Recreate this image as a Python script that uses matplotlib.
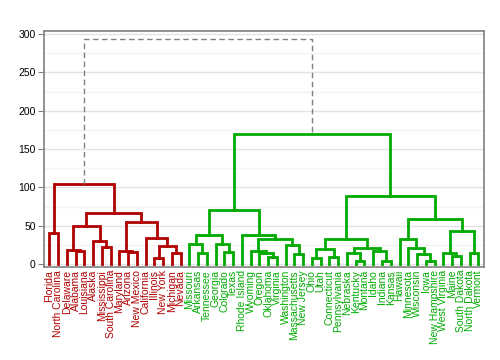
import matplotlib
matplotlib.use("Agg")
import matplotlib.pyplot as plt
from matplotlib.ticker import MultipleLocator

plt.rcParams['font.family'] = ['Liberation Sans', 'DejaVu Sans']

# leaves, in the order they appear along the x axis
states = ['Florida', 'North Carolina', 'Delaware', 'Alabama', 'Louisiana', 'Alaska',
          'Mississippi', 'South Carolina', 'Maryland', 'Arizona', 'New Mexico',
          'California', 'Illinois', 'New York', 'Michigan', 'Nevada', 'Missouri',
          'Arkansas', 'Tennessee', 'Georgia', 'Colorado', 'Texas', 'Rhode Island',
          'Wyoming', 'Oregon', 'Oklahoma', 'Virginia', 'Washington', 'Massachusetts',
          'New Jersey', 'Ohio', 'Utah', 'Connecticut', 'Pennsylvania', 'Nebraska',
          'Kentucky', 'Montana', 'Idaho', 'Indiana', 'Kansas', 'Hawaii', 'Minnesota',
          'Wisconsin', 'Iowa', 'New Hampshire', 'West Virginia', 'Maine',
          'South Dakota', 'North Dakota', 'Vermont']

# merges: a state name or "#k" (k-th merge), and the merge height
link_left = ['Florida', 'Alabama', 'Delaware', 'Mississippi', 'Alaska', '#2',
             'Arizona', 'Maryland', 'Illinois', 'Michigan', '#8', 'California',
             '#7', '#5', '#0',
             'Arkansas', 'Missouri', 'Colorado', 'Georgia', '#16', 'Oklahoma',
             'Oregon', 'Wyoming', 'Massachusetts', 'Washington', '#22',
             'Rhode Island', '#19', 'Ohio', 'Connecticut', '#28', 'Kentucky',
             'Nebraska', 'Indiana', 'Idaho', '#32', '#30', 'Iowa', 'Wisconsin',
             'Minnesota', 'Hawaii', 'Maine', 'West Virginia', 'North Dakota',
             '#42', '#40', '#36', '#27', '#14']
link_right = ['North Carolina', 'Louisiana', '#1', 'South Carolina', '#3', '#4',
              'New Mexico', '#6', 'New York', 'Nevada', '#9', '#10',
              '#11', '#12', '#13',
              'Tennessee', '#15', 'Texas', '#17', '#18', 'Virginia',
              '#20', '#21', 'New Jersey', '#23', '#24',
              '#25', '#26', 'Utah', 'Pennsylvania', '#29', 'Montana',
              '#31', 'Kansas', '#33', '#34', '#35', 'New Hampshire', '#37',
              '#38', '#39', 'South Dakota', '#41', 'Vermont',
              '#43', '#44', '#45', '#46', '#47']
link_height = [40.4, 16.8, 18.3, 22.6, 30.0, 49.6,
               15.7, 16.5, 8.3, 14.3, 23.9, 34.3,
               54.8, 67.0, 104.0,
               14.8, 26.1, 15.8, 26.3, 38.2, 9.6,
               14.4, 17.0, 13.0, 24.5, 32.2,
               37.8, 70.8, 7.4, 9.1, 20.2, 4.3,
               14.0, 4.3, 17.4, 21.3, 33.0, 3.9, 12.6,
               21.3, 33.0, 10.4, 14.0, 14.8,
               43.5, 59.1, 88.7, 169.6, 293.0]

cluster_colors = ['#b00000', '#00aa00']
above_color = '#808080'

fig = plt.figure(figsize=(5, 3.6), dpi=100)
ax = fig.add_axes([0.088, 0.258, 0.88, 0.656])

pos = {s: (i, 0.0) for i, s in enumerate(states)}
members = {s: {s} for s in states}
for k, (a, b, h) in enumerate(zip(link_left, link_right, link_height)):
    pos['#%d' % k] = ((pos[a][0] + pos[b][0]) / 2, h)
    members['#%d' % k] = members[a] | members[b]

# the two top clusters give the colours
root = '#%d' % (len(link_height) - 1)
groups = [members[link_left[-1]], members[link_right[-1]]]
leaf_color = {}
for g, c in zip(groups, cluster_colors):
    for s in g:
        leaf_color[s] = c

for k, (a, b, h) in enumerate(zip(link_left, link_right, link_height)):
    xa, ya = pos[a]
    xb, yb = pos[b]
    xs = [xa, xa, xb, xb]
    ys = [ya, h, h, yb]
    if '#%d' % k == root:
        ax.plot(xs, ys, color=above_color, lw=1, ls=(0, (4, 2.5)), zorder=3)
    else:
        c = leaf_color[next(iter(members['#%d' % k]))]
        ax.plot(xs, ys, color=c, lw=2, solid_joinstyle='miter', zorder=3)

ax.set_xlim(-0.6, len(states) - 0.35)
ax.set_ylim(-4, 304)
ax.yaxis.set_major_locator(MultipleLocator(50))
ax.yaxis.set_minor_locator(MultipleLocator(25))
ax.grid(which='major', axis='y', color='#e3e3e3', lw=1)
ax.grid(which='minor', axis='y', color='#f4f4f4', lw=1)
ax.set_axisbelow(True)

ax.set_xticks(range(len(states)))
ax.set_xticklabels(states, rotation=90, fontsize=7.5)
for lab, s in zip(ax.get_xticklabels(), states):
    lab.set_color(leaf_color[s])
ax.tick_params(axis='x', length=0, pad=2)
ax.tick_params(axis='y', which='major', length=4, color='#808080', labelsize=7.5, pad=2)
ax.tick_params(axis='y', which='minor', length=0)

for sp in ax.spines.values():
    sp.set_color('#808080')
    sp.set_linewidth(1.2)

fig.savefig('out.png', dpi=100)
